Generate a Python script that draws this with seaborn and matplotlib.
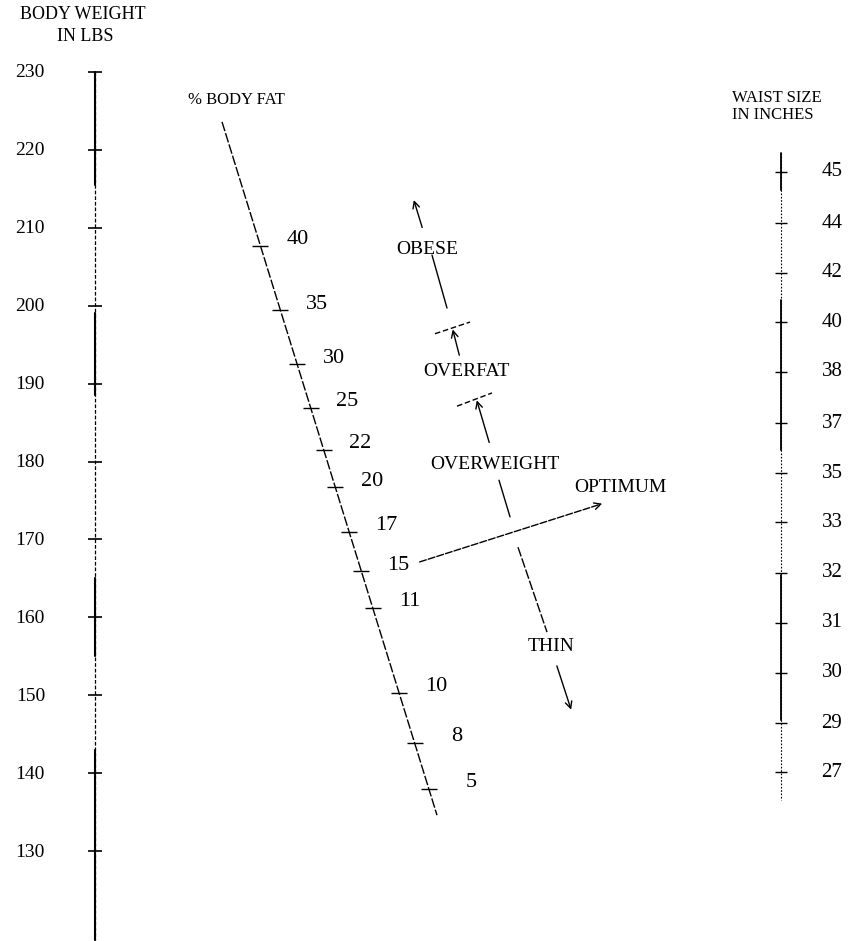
import numpy as np
import pandas as pd
import seaborn as sns
import matplotlib
matplotlib.use("Agg")
import matplotlib.pyplot as plt

# --- Data ---
# left scale: body weight in lbs
WEIGHT_TICKS = [230, 220, 210, 200, 190, 180, 170, 160, 150, 140, 130]

# middle scale: % body fat, and the weight level (lbs) each mark sits at
FAT_VALUES = [40, 35, 30, 25, 22, 20, 17, 15, 11, 10, 8, 5]
FAT_LEVELS = [207.7, 199.4, 192.5, 186.9, 181.5, 176.7, 171.0, 165.9, 161.2, 150.3, 143.9, 138.0]

# right scale: waist size in inches, and the weight level of each mark
WAIST_VALUES = [45, 44, 42, 40, 38, 37, 35, 33, 32, 31, 30, 29, 27]
WAIST_LEVELS = [217.2, 210.6, 204.2, 197.9, 191.5, 184.9, 178.5, 172.2, 165.7, 159.3, 152.9, 146.4, 140.1]

# --- Layout (x in pixels, y on the lbs scale) ---
X_WEIGHT = 95
X_WAIST = 781
FAT_TOP = (222, 223.6)
FAT_BOTTOM = (437, 134.6)
Y_LIMITS = (118.45, 239.24)

FONT = "Liberation Serif"

sns.set_theme(style="white")
plt.rcParams['font.family'] = [FONT, 'DejaVu Serif']
plt.rcParams['text.color'] = 'black'

fig = plt.figure(figsize=(8.5, 9.41), dpi=100)
ax = fig.add_axes([0, 0, 1, 1])
ax.set_xlim(0, 850)
ax.set_ylim(*Y_LIMITS)
ax.axis('off')

# --- Body weight scale ---
weight_solid = [(230, 215.5), (199.1, 188.5), (165, 155), (143, 118.6)]
weight_df = pd.DataFrame({'x': [X_WEIGHT, X_WEIGHT], 'y': [230, 118.6]})
sns.lineplot(data=weight_df, x='x', y='y', ax=ax, color='black', lw=0.9,
             linestyle=(0, (3, 1.5)), estimator=None, sort=False)
for top, bot in weight_solid:
    ax.plot([X_WEIGHT, X_WEIGHT], [top, bot], color='black', lw=1.5)
ax.plot([X_WEIGHT] * len(WEIGHT_TICKS), WEIGHT_TICKS, ls='none', marker='_',
        ms=10, mew=1.2, color='black')
for w in WEIGHT_TICKS:
    ax.annotate(str(w), (X_WEIGHT, w), xytext=(-50, -1), textcoords='offset pixels',
                ha='right', va='center', fontsize=14, color='black')
ax.text(83, 237.4, "BODY WEIGHT", ha='center', va='center', fontsize=13, color='black')
ax.text(85, 234.6, "IN LBS", ha='center', va='center', fontsize=13, color='black')

# --- % body fat scale (slanted) ---
fat_df = pd.DataFrame({'x': [FAT_TOP[0], FAT_BOTTOM[0]], 'y': [FAT_TOP[1], FAT_BOTTOM[1]]})
sns.lineplot(data=fat_df, x='x', y='y', ax=ax, color='black', lw=1.0,
             linestyle=(0, (7, 1.5)), estimator=None, sort=False)
fat_x = np.interp(FAT_LEVELS, [FAT_BOTTOM[1], FAT_TOP[1]], [FAT_BOTTOM[0], FAT_TOP[0]])
ax.plot(fat_x, FAT_LEVELS, ls='none', marker='_', ms=11, mew=1.0, color='black')
for v, x, lv in zip(FAT_VALUES, fat_x, FAT_LEVELS):
    ax.annotate(str(v), (x, lv), xytext=(48, 6), textcoords='offset pixels',
                ha='right', va='center', fontsize=16, color='black')
ax.text(236, 226.4, "% BODY FAT", ha='center', va='center', fontsize=12, color='black')

# --- Waist size scale ---
waist_solid = [(219.6, 214.8), (200.7, 181.5), (165.4, 146.8)]
waist_df = pd.DataFrame({'x': [X_WAIST, X_WAIST], 'y': [219.6, 136.5]})
sns.lineplot(data=waist_df, x='x', y='y', ax=ax, color='black', lw=0.8,
             linestyle=(0, (1.5, 1.5)), estimator=None, sort=False)
for top, bot in waist_solid:
    ax.plot([X_WAIST, X_WAIST], [top, bot], color='black', lw=1.3)
ax.plot([X_WAIST] * len(WAIST_LEVELS), WAIST_LEVELS, ls='none', marker='_',
        ms=9, mew=1.0, color='black')
for v, lv in zip(WAIST_VALUES, WAIST_LEVELS):
    ax.annotate(str(v), (X_WAIST, lv), xytext=(51, 0), textcoords='offset pixels',
                ha='center', va='center', fontsize=15, color='black')
ax.text(777, 226.7, "WAIST SIZE", ha='center', va='center', fontsize=12, color='black')
ax.text(773, 224.5, "IN INCHES", ha='center', va='center', fontsize=12, color='black')

# --- Classification guide in the middle ---
arrow = dict(arrowstyle='->', lw=1.0, color='black', mutation_scale=12)
ax.annotate('', xy=(413, 213.9), xytext=(423, 209.7), arrowprops=arrow)
ax.text(427, 207.2, "OBESE", ha='center', va='center', fontsize=14, color='black')
ax.plot([432, 447], [206.5, 199.7], color='black', lw=1.0)

ax.plot([435, 470], [196.4, 197.9], color='black', lw=1.0, ls=(0, (4, 2)))
ax.annotate('', xy=(452, 197.3), xytext=(460, 193.3), arrowprops=arrow)
ax.text(466, 191.5, "OVERFAT", ha='center', va='center', fontsize=14, color='black')

ax.plot([457, 492], [187.1, 188.8], color='black', lw=1.0, ls=(0, (4, 2)))
ax.annotate('', xy=(476, 188.2), xytext=(490, 182.1), arrowprops=arrow)
ax.text(495, 179.6, "OVERWEIGHT", ha='center', va='center', fontsize=14, color='black')

ax.plot([499, 510], [177.6, 172.9], color='black', lw=1.0)
ax.plot([518, 547], [169.0, 158.1], color='black', lw=1.0, ls=(0, (7, 1.5)))
ax.text(551, 156.2, "THIN", ha='center', va='center', fontsize=14, color='black')
ax.annotate('', xy=(572, 147.8), xytext=(556, 154.1), arrowprops=arrow)

ax.annotate('', xy=(605, 174.7), xytext=(417, 167.0),
            arrowprops=dict(arrowstyle='->', lw=1.0, color='black',
                            mutation_scale=12, linestyle=(0, (5, 1.5))))
ax.text(620, 176.6, "OPTIMUM", ha='center', va='center', fontsize=14, color='black')

fig.savefig("out.png", dpi=100, facecolor='white')
print("saved out.png")
